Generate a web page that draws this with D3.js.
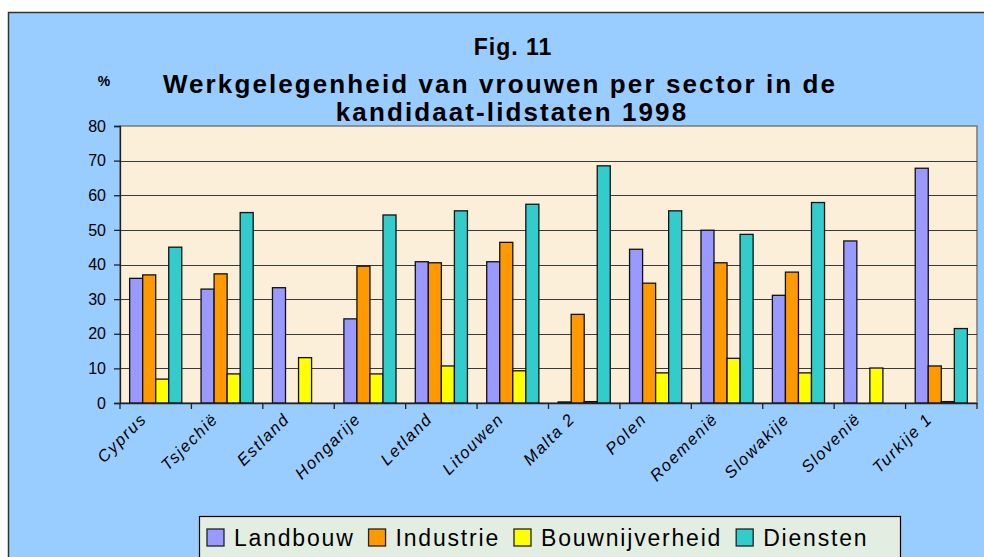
<!DOCTYPE html>
<html>
<head>
<meta charset="utf-8">
<script src="https://cdn.jsdelivr.net/npm/d3@7"></script>
<style>
  body { margin: 0; background: #fff; }
  svg { display: block; font-family: "Liberation Sans", Arial, sans-serif; }
</style>
</head>
<body>
<svg id="chart" width="984" height="557"></svg>
<script>
// data
const countries = ["Cyprus", "Tsjechië", "Estland", "Hongarije", "Letland", "Litouwen",
                   "Malta 2", "Polen", "Roemenië", "Slowakije", "Slovenië", "Turkije 1"];
const sectors = ["Landbouw", "Industrie", "Bouwnijverheid", "Diensten"];
const landbouw       = [36.0, 32.9, 33.3, 24.3, 40.8, 40.8, 0.3, 44.4, 49.9, 31.1, 46.8, 67.8];
const industrie      = [37.0, 37.3, null, 39.5, 40.5, 46.4, 25.6, 34.6, 40.5, 37.8, null, 10.7];
const bouwnijverheid = [6.9, 8.4, 13.1, 8.4, 10.7, 9.3, 0.4, 8.7, 12.9, 8.7, 10.1, 0.4];
const diensten       = [45.0, 55.0, null, 54.3, 55.5, 57.4, 68.5, 55.5, 48.7, 57.9, null, 21.5];
const yTicks = [0, 10, 20, 30, 40, 50, 60, 70, 80];
const colors = ["#9999FF", "#FF9900", "#FFFF00", "#33CCCC"];

const seriesValues = [landbouw, industrie, bouwnijverheid, diensten];
const table = countries.map((c, i) => {
  let row = {country: c};
  sectors.forEach((s, j) => row[s] = seriesValues[j][i]);
  return row;
});

const svg = d3.select("#chart");
const plot = {left: 120, right: 977, top: 126, bottom: 403};

// outer frame
svg.append("rect")
  .attr("x", 8.5).attr("y", 12.5)
  .attr("width", 1000).attr("height", 600)
  .attr("fill", "#99CCFF")
  .attr("stroke", "#333").attr("stroke-width", 1.5);

// titles
const title = svg.append("g").attr("font-weight", "bold").attr("fill", "#000")
  .attr("text-anchor", "middle");
title.append("text").attr("x", 513).attr("y", 55)
  .attr("font-size", 23).attr("letter-spacing", 1).text("Fig. 11");
title.append("text").attr("x", 500).attr("y", 93)
  .attr("font-size", 26).attr("letter-spacing", 2.1).text("Werkgelegenheid van vrouwen per sector in de");
title.append("text").attr("x", 512).attr("y", 121)
  .attr("font-size", 26).attr("letter-spacing", 2.1).text("kandidaat-lidstaten 1998");
svg.append("text").attr("x", 104).attr("y", 86)
  .attr("text-anchor", "middle").attr("font-weight", "bold")
  .attr("font-size", 14).text("%");

// scales
const x0 = d3.scaleBand().domain(countries).range([plot.left, plot.right]).padding(0);
const bw = x0.bandwidth();
const x1 = d3.scaleBand().domain(sectors).range([bw * 0.135, bw * 0.865]).padding(0);
const y = d3.scaleLinear().domain([0, 80]).range([plot.bottom, plot.top]);
const color = d3.scaleOrdinal().domain(sectors).range(colors);

// plot background
svg.append("rect")
  .attr("x", plot.left).attr("y", plot.top)
  .attr("width", plot.right - plot.left).attr("height", plot.bottom - plot.top)
  .attr("fill", "#FCEFD9")
  .attr("stroke", "#7a7a7a").attr("stroke-width", 1.5);

// gridlines
svg.append("g").selectAll("line")
  .data(yTicks.filter(t => t > 0 && t < 80))
  .join("line")
  .attr("x1", plot.left).attr("x2", plot.right)
  .attr("y1", d => Math.round(y(d)) + 0.5).attr("y2", d => Math.round(y(d)) + 0.5)
  .attr("stroke", "#3a3a3a").attr("stroke-width", 1.2);

// bars
svg.append("g").selectAll("g")
  .data(table)
  .join("g")
  .attr("transform", d => `translate(${x0(d.country)},0)`)
  .selectAll("rect")
  .data(d => sectors.filter(s => d[s] != null).map(s => ({key: s, value: d[s]})))
  .join("rect")
  .attr("x", d => x1(d.key))
  .attr("y", d => y(d.value))
  .attr("width", x1.bandwidth())
  .attr("height", d => y(0) - y(d.value))
  .attr("fill", d => color(d.key))
  .attr("stroke", "#111").attr("stroke-width", 1.3);

// y axis
const yAxis = svg.append("g")
  .attr("transform", `translate(${plot.left},0)`)
  .call(d3.axisLeft(y).tickValues(yTicks).tickSize(6).tickPadding(8).tickFormat(d3.format("d")));
yAxis.select(".domain").attr("stroke", "#222").attr("stroke-width", 1.3);
yAxis.selectAll(".tick line").attr("stroke", "#222").attr("stroke-width", 1.3);
yAxis.selectAll("text").attr("font-size", 16).attr("fill", "#000")
  .attr("font-family", "Liberation Sans, Arial, sans-serif");

// x axis
const xAxis = svg.append("g")
  .attr("transform", `translate(0,${plot.bottom})`)
  .call(d3.axisBottom(x0).tickSize(0).tickFormat(""));
xAxis.select(".domain").attr("stroke", "#222").attr("stroke-width", 1.5);
xAxis.selectAll(".tick").remove();
xAxis.selectAll("line.sep")
  .data(countries.concat(["end"]))
  .join("line").attr("class", "sep")
  .attr("x1", (d, i) => plot.left + i * bw).attr("x2", (d, i) => plot.left + i * bw)
  .attr("y1", 0).attr("y2", 6)
  .attr("stroke", "#222").attr("stroke-width", 1.3);

svg.append("g").selectAll("text")
  .data(countries)
  .join("text")
  .attr("transform", d => `translate(${x0(d) + bw / 2 - 8},${plot.bottom + 17}) rotate(-45)`)
  .attr("text-anchor", "end")
  .attr("font-style", "italic")
  .attr("font-size", 16.5)
  .attr("letter-spacing", 1.6)
  .attr("fill", "#000")
  .text(d => d);

// legend
const legend = svg.append("g");
legend.append("rect")
  .attr("x", 199.5).attr("y", 516.5).attr("width", 701).attr("height", 60)
  .attr("fill", "#E3EEE2").attr("stroke", "#000").attr("stroke-width", 1.2);
let lx = 207;
sectors.forEach((s, i) => {
  legend.append("rect")
    .attr("x", lx).attr("y", 529).attr("width", 17).attr("height", 17)
    .attr("fill", color(s)).attr("stroke", "#222").attr("stroke-width", 1.3);
  const t = legend.append("text")
    .attr("x", lx + 27).attr("y", 546)
    .attr("font-size", 23).attr("letter-spacing", 1.8).attr("fill", "#000")
    .text(s);
  lx += 27 + t.node().getComputedTextLength() + 14;
});
</script>
</body>
</html>
